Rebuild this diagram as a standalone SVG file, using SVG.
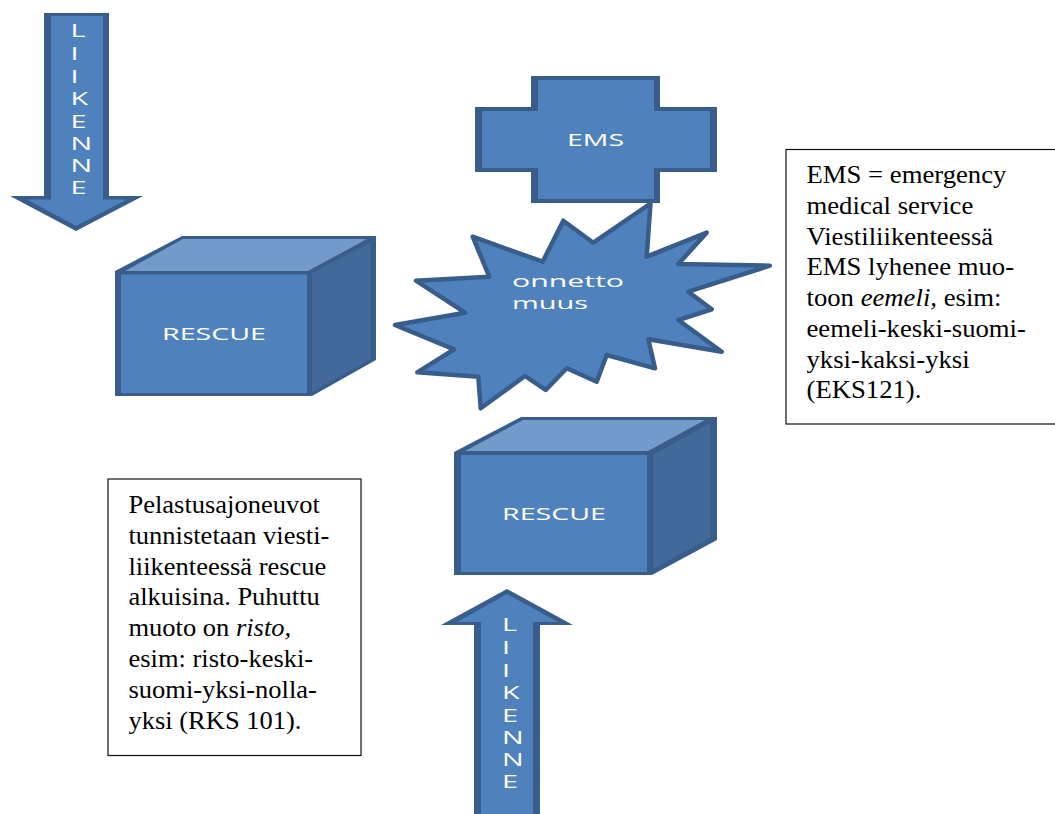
<svg xmlns="http://www.w3.org/2000/svg" width="1055" height="814" viewBox="0 0 1055 814">
<style>
text{font-family:"Open Sans","Liberation Sans",sans-serif}
.o{fill:#385d8a}
.f{fill:#4f81bd}
.t{fill:#729aca}
.s{fill:#41699a}
.star{fill:#4f81bd;stroke:#385d8a;stroke-width:4.500;stroke-linejoin:round}
.w{fill:#fff;font-size:17px}
.v{fill:#fff;font-size:18px}
.box{fill:#fff;stroke:#111;stroke-width:1.200}
.n{font-family:"Liberation Serif","Times New Roman",serif;font-size:25px;fill:#000}
</style>
<rect width="1055" height="814" fill="#fff"/>
<g id="arrow-top">
<polygon class="o" points="44,13 109,13 109,196 143,196 76,231 10,196 44,196"/>
<polygon class="f" points="51,16 103,16 103,199.500 127,199.500 76,226 27,199.500 51,199.500"/>
<text class="v" transform="translate(70.500 0) scale(1.6 1)" x="0 0 0 0 0 0 0 0" y="37 60 83 105 128 150 172 194">LIIKENNE</text>
</g>
<g id="cross-ems">
<polygon class="o" points="531,76 660,76 660,107 717,107 717,172 660,172 660,203 531,203 531,172 475,172 475,107 531,107"/>
<polygon class="f" points="538,80 654,80 654,111 710,111 710,168 654,168 654,199 538,199 538,168 482,168 482,111 538,111"/>
<text class="w" x="567" y="146" textLength="57" lengthAdjust="spacingAndGlyphs">EMS</text>
</g>
<g id="burst">
<polygon class="star" points="650.500,203.500 646.700,256.700 706.700,232.700 678.300,264 769.800,265.700 688.300,291.700 711.700,309.300 678.300,320 721.700,351.700 648.300,339.300 655,368.300 606.700,355 596.700,381.700 566.700,368.300 545.700,390 525,376 480.700,408.300 478.300,376.700 417.300,372.300 454,349.300 395,325 465,312.700 416,280.700 489.300,276.700 472.700,236.700 542.700,261.700 563.300,220.700 593.300,242.700"/>
<text class="w" x="512" y="287" textLength="112" lengthAdjust="spacingAndGlyphs">onnetto</text>
<text class="w" x="512" y="309" textLength="76" lengthAdjust="spacingAndGlyphs">muus</text>
</g>
<g id="cube-left">
<polygon class="o" points="115,396 115,271 182,236 376,236 376,360 312,396"/>
<polygon class="t" points="125,271 183,239 367,239 308,271"/>
<polygon class="s" points="312,273 371,242 371,359 312,392"/>
<rect class="f" x="121" y="274.500" width="186" height="118.500"/>
<text class="w" x="162" y="340" textLength="104" lengthAdjust="spacingAndGlyphs">RESCUE</text>
</g>
<g id="cube-bottom">
<polygon class="o" points="454,575 454,452 521,417 717,417 717,540 652,575"/>
<polygon class="t" points="465,451 523,420 705,420 648,451"/>
<polygon class="s" points="653,455 710,423 710,538 653,569"/>
<rect class="f" x="461" y="455" width="186" height="117"/>
<text class="w" x="502" y="520" textLength="104" lengthAdjust="spacingAndGlyphs">RESCUE</text>
</g>
<g id="arrow-bottom">
<polygon class="o" points="507,589 573,625 540,625 540,814 474,814 474,625 441,625"/>
<polygon class="f" points="507,594 558,622 533,622 533,814 481,814 481,622 457,622"/>
<text class="v" transform="translate(502 0) scale(1.6 1)" x="0 0 0 0 0 0 0 0" y="631 654 677 699 722 744 766 788">LIIKENNE</text>
</g>
<g id="note-ems">
<rect class="box" x="786" y="149.500" width="270" height="274.500"/>
<text class="n" transform="translate(806.500 0) scale(1.068 1)"><tspan x="0" y="183.500">EMS = emergency</tspan><tspan x="0" y="214">medical service</tspan><tspan x="0" y="245">Viestiliikenteessä</tspan><tspan x="0" y="275.500">EMS lyhenee muo-</tspan><tspan x="0" y="306">toon <tspan font-style="italic">eemeli,</tspan> esim:</tspan><tspan x="0" y="337">eemeli-keski-suomi-</tspan><tspan x="0" y="368">yksi-kaksi-yksi</tspan><tspan x="0" y="398.500">(EKS121).</tspan></text>
</g>
<g id="note-rescue">
<rect class="box" x="108" y="479" width="253" height="276.500"/>
<text class="n" transform="translate(128.500 0) scale(1.06 1)"><tspan x="0" y="513.500">Pelastusajoneuvot</tspan><tspan x="0" y="544.500">tunnistetaan viesti-</tspan><tspan x="0" y="575">liikenteessä rescue</tspan><tspan x="0" y="605.500">alkuisina. Puhuttu</tspan><tspan x="0" y="636">muoto on <tspan font-style="italic">risto,</tspan></tspan><tspan x="0" y="667">esim: risto-keski-</tspan><tspan x="0" y="698">suomi-yksi-nolla-</tspan><tspan x="0" y="729">yksi (RKS 101).</tspan></text>
</g>
<g id="connectors"/>
</svg>
